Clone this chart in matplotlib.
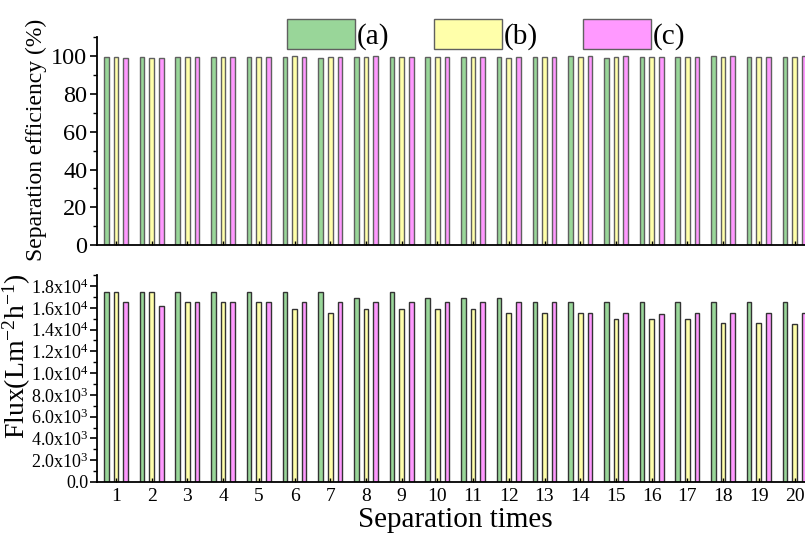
import matplotlib.pyplot as plt
import numpy as np
from matplotlib.patches import Patch
from matplotlib.ticker import MultipleLocator, FuncFormatter

plt.rcParams['font.family'] = ['Liberation Serif', 'DejaVu Serif']
plt.rcParams['mathtext.fontset'] = 'stix'
plt.rcParams['mathtext.default'] = 'regular'

# dados
vezes = list(range(1, 21))
series = ['(a)', '(b)', '(c)']
cores = ['#99D699', '#FFFFAA', '#FF99FF']

eficiencia_a = [99.6, 99.6, 99.4, 99.5, 99.5, 99.7, 99.3, 99.6, 99.6, 99.6,
                99.6, 99.6, 99.6, 99.9, 99.3, 99.6, 99.6, 99.9, 99.6, 99.6]
eficiencia_b = [99.6, 98.8, 99.6, 99.6, 99.6, 99.9, 99.5, 99.4, 99.6, 99.6,
                99.6, 99.3, 99.6, 99.6, 99.6, 99.6, 99.6, 99.6, 99.6, 99.6]
eficiencia_c = [98.8, 99.3, 99.5, 99.6, 99.5, 99.6, 99.8, 99.9, 99.6, 99.6,
                99.6, 99.6, 99.6, 99.9, 99.9, 99.6, 99.6, 99.9, 99.6, 99.9]

fluxo_a = [17500, 17500, 17500, 17500, 17500, 17500, 17500, 16900, 17500, 16900,
           16900, 16900, 16500, 16500, 16500, 16500, 16500, 16500, 16500, 16500]
fluxo_b = [17500, 17500, 16500, 16500, 16500, 15900, 15500, 15900, 15900, 15900,
           15900, 15500, 15500, 15500, 15000, 15000, 15000, 14600, 14600, 14500]
fluxo_c = [16500, 16200, 16500, 16500, 16500, 16500, 16500, 16500, 16500, 16500,
           16500, 16500, 16500, 15500, 15500, 15400, 15500, 15500, 15500, 15500]

x = np.array(vezes)
largura = 0.13
desloc = [-0.27, 0.0, 0.27]

fig = plt.figure(figsize=(8.05, 5.33), dpi=100)
ax1 = fig.add_axes([0.1205, 0.540, 0.89, 0.390])
ax2 = fig.add_axes([0.1205, 0.0957, 0.89, 0.388])

for d, vals, cor in zip(desloc, [eficiencia_a, eficiencia_b, eficiencia_c], cores):
    ax1.bar(x + d, vals, width=largura, color=cor, edgecolor='#606060', linewidth=1)
for d, vals, cor in zip(desloc, [fluxo_a, fluxo_b, fluxo_c], cores):
    ax2.bar(x + d, vals, width=largura, color=cor, edgecolor='#333333', linewidth=1)

for ax in (ax1, ax2):
    ax.set_xlim(0.47, 20.53)
    ax.spines['top'].set_visible(False)
    ax.spines['right'].set_visible(False)
    ax.spines['left'].set_linewidth(1.3)
    ax.spines['bottom'].set_linewidth(1.3)
    ax.set_xticks(vezes)
    ax.tick_params(axis='x', direction='in', length=3, width=1)
    ax.tick_params(axis='y', which='major', direction='out', length=5, width=1.2)
    ax.tick_params(axis='y', which='minor', direction='out', length=3, width=1)

ax1.set_ylim(0, 110)
ax1.yaxis.set_major_locator(MultipleLocator(20))
ax1.yaxis.set_minor_locator(MultipleLocator(10))
ax1.tick_params(axis='x', labelbottom=False)
ax1.tick_params(axis='y', labelsize=17.5, pad=2)
ax1.set_ylabel('Separation efficiency (%)', fontsize=17)
ax1.yaxis.set_label_coords(-0.07, 0.505)

def formato_fluxo(v, pos):
    if v <= 0:
        return '0.0'
    exp = int(np.floor(np.log10(v)))
    return r'%.1fx10$^{%d}$' % (v / 10 ** exp, exp)

ax2.set_ylim(0, 19000)
ax2.yaxis.set_major_locator(MultipleLocator(2000))
ax2.yaxis.set_minor_locator(MultipleLocator(1000))
ax2.yaxis.set_major_formatter(FuncFormatter(formato_fluxo))
ax2.tick_params(axis='y', labelsize=13, pad=1)
ax2.tick_params(axis='x', labelsize=14, pad=4)
ax2.set_ylabel(r'Flux(Lm$^{-2}$h$^{-1}$)', fontsize=20)
ax2.yaxis.set_label_coords(-0.09, 0.61)
ax2.set_xlabel('Separation times', fontsize=21, labelpad=2)

handles = [Patch(facecolor=c, edgecolor='#606060', label=s) for c, s in zip(cores, series)]
fig.legend(handles=handles, loc='upper left', bbox_to_anchor=(0.333, 1.0), ncol=3,
           frameon=False, fontsize=21, handlelength=2.33, handleheight=1.2,
           handletextpad=0.05, columnspacing=1.55, borderaxespad=0.25)

plt.savefig('out.png', dpi=100)
